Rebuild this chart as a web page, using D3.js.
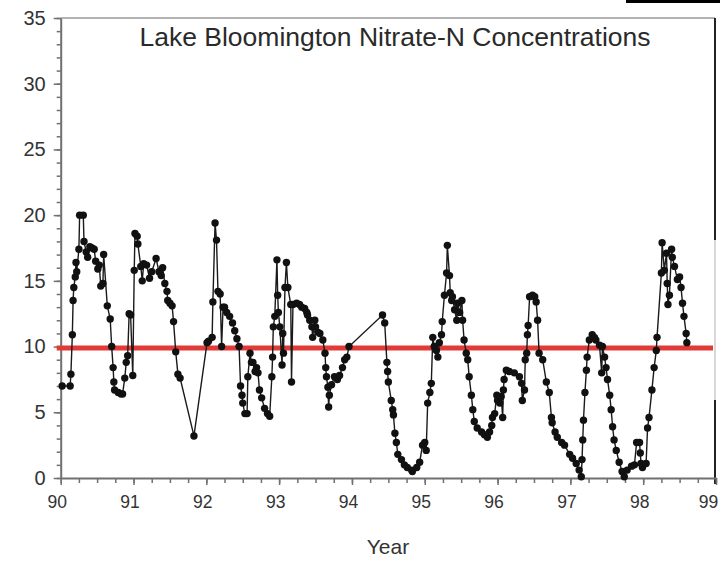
<!DOCTYPE html>
<html>
<head>
<meta charset="utf-8">
<script src="https://cdn.jsdelivr.net/npm/d3@7"></script>
<style>
    body { margin: 0; background: #fff; }
    svg { display: block; font-family: "Liberation Sans", Arial, sans-serif; }
</style>
</head>
<body>
<div id="chart"></div>
<script>
// sample dates (decimal year, 90 = 1990) and nitrate-N (mg/L)
const years = [
    90.02, 90.13, 90.14, 90.16, 90.17, 90.18, 90.20, 90.21, 90.22, 90.25,
    90.26, 90.31, 90.32, 90.35, 90.37, 90.40, 90.43, 90.46, 90.48, 90.51,
    90.53, 90.55, 90.58, 90.59, 90.64, 90.68, 90.70, 90.72, 90.73, 90.74,
    90.79, 90.83, 90.85, 90.88, 90.90, 90.92, 90.94, 90.96, 90.99, 91.01,
    91.02, 91.05, 91.06, 91.10, 91.12, 91.14, 91.18, 91.22, 91.25, 91.31,
    91.35, 91.38, 91.40, 91.43, 91.46, 91.47, 91.50, 91.53, 91.55, 91.58,
    91.61, 91.64, 91.83, 92.01, 92.03, 92.08, 92.09, 92.12, 92.14, 92.16,
    92.19, 92.21, 92.23, 92.25, 92.28, 92.32, 92.36, 92.39, 92.42, 92.45,
    92.47, 92.49, 92.50, 92.53, 92.56, 92.57, 92.60, 92.62, 92.64, 92.67,
    92.69, 92.71, 92.73, 92.76, 92.80, 92.84, 92.87, 92.90, 92.91, 92.92,
    92.94, 92.97, 92.98, 92.99, 93.01, 93.04, 93.05, 93.06, 93.08, 93.10,
    93.12, 93.16, 93.17, 93.19, 93.24, 93.28, 93.31, 93.35, 93.38, 93.39,
    93.42, 93.45, 93.46, 93.49, 93.50, 93.53, 93.56, 93.60, 93.63, 93.64,
    93.65, 93.67, 93.68, 93.69, 93.72, 93.76, 93.80, 93.83, 93.87, 93.90,
    93.93, 93.96, 94.42, 94.45, 94.48, 94.49, 94.50, 94.54, 94.56, 94.57,
    94.59, 94.61, 94.63, 94.68, 94.72, 94.76, 94.82, 94.83, 94.89, 94.93,
    94.97, 95.00, 95.02, 95.04, 95.07, 95.09, 95.11, 95.13, 95.16, 95.18,
    95.20, 95.23, 95.24, 95.27, 95.30, 95.31, 95.34, 95.35, 95.37, 95.38,
    95.41, 95.44, 95.45, 95.48, 95.51, 95.52, 95.54, 95.57, 95.59, 95.61,
    95.64, 95.66, 95.68, 95.72, 95.78, 95.82, 95.86, 95.89, 95.92, 95.93,
    95.96, 95.99, 96.00, 96.03, 96.05, 96.07, 96.08, 96.09, 96.12, 96.16,
    96.23, 96.30, 96.33, 96.34, 96.37, 96.38, 96.40, 96.41, 96.42, 96.44,
    96.48, 96.51, 96.53, 96.55, 96.57, 96.62, 96.67, 96.71, 96.74, 96.75,
    96.79, 96.82, 96.88, 96.92, 96.99, 97.03, 97.08, 97.12, 97.15, 97.16,
    97.17, 97.18, 97.20, 97.22, 97.23, 97.26, 97.30, 97.33, 97.35, 97.40,
    97.43, 97.44, 97.47, 97.49, 97.51, 97.54, 97.56, 97.58, 97.60, 97.63,
    97.67, 97.71, 97.74, 97.78, 97.84, 97.88, 97.91, 97.95, 97.96, 97.97,
    97.99, 98.04, 98.06, 98.08, 98.12, 98.15, 98.18, 98.19, 98.25, 98.26,
    98.29, 98.32, 98.33, 98.34, 98.36, 98.39, 98.40, 98.43, 98.47, 98.50,
    98.52, 98.54, 98.56, 98.59, 98.60
];
const nitrate = [
    7.0, 7.0, 7.9, 10.9, 13.5, 14.5, 15.3, 16.4, 15.7, 17.4,
    20.0, 20.0, 18.0, 17.2, 16.8, 17.6, 17.5, 17.4, 16.5, 15.9,
    16.2, 14.6, 14.8, 17.0, 13.1, 12.1, 10.0, 8.4, 7.3, 6.7,
    6.5, 6.4, 6.4, 7.6, 8.8, 9.3, 12.5, 12.4, 7.8, 15.8,
    18.6, 18.4, 17.8, 16.1, 15.0, 16.3, 16.2, 15.2, 15.7, 16.7,
    15.7, 15.4, 16.0, 14.8, 14.2, 13.5, 13.3, 13.1, 11.9, 9.6,
    7.9, 7.6, 3.2, 10.3, 10.4, 10.7, 13.4, 19.4, 18.1, 14.2,
    14.0, 10.0, 13.0, 13.0, 12.6, 12.3, 11.8, 11.2, 10.6, 10.0,
    7.0, 6.3, 5.7, 4.9, 4.9, 7.7, 9.5, 8.8, 8.8, 8.1,
    8.4, 8.0, 6.7, 6.1, 5.3, 4.9, 4.7, 7.7, 9.2, 11.5,
    12.3, 16.6, 13.9, 12.6, 11.5, 8.6, 11.0, 9.5, 14.5, 16.4,
    14.5, 13.2, 7.3, 13.2, 13.3, 13.2, 13.0, 12.9, 12.6, 12.4,
    12.0, 11.5, 10.7, 12.0, 11.5, 11.1, 11.0, 10.5, 9.5, 8.4,
    7.7, 6.9, 5.4, 6.3, 7.1, 7.7, 7.5, 7.8, 8.4, 9.0,
    9.2, 10.0, 12.4, 11.8, 8.8, 8.1, 7.3, 5.9, 5.2, 4.8,
    3.4, 2.7, 1.8, 1.4, 1.0, 0.8, 0.6, 0.5, 0.8, 1.2,
    2.5, 2.7, 2.1, 5.7, 6.5, 7.2, 10.7, 10.0, 9.7, 9.2,
    10.3, 10.9, 11.9, 13.9, 15.6, 17.7, 15.4, 14.1, 13.5, 13.8,
    12.8, 12.0, 13.3, 12.6, 13.5, 12.0, 10.5, 9.5, 9.0, 7.7,
    6.3, 5.2, 4.3, 3.8, 3.5, 3.3, 3.1, 3.5, 4.0, 4.6,
    4.9, 6.3, 5.9, 5.7, 6.2, 4.6, 6.7, 7.5, 8.2, 8.1,
    8.0, 7.7, 7.2, 5.9, 6.7, 9.0, 9.5, 10.9, 11.6, 13.8,
    13.9, 13.8, 13.4, 12.0, 9.5, 9.0, 7.3, 6.5, 4.6, 4.2,
    3.5, 3.1, 2.7, 2.5, 1.8, 1.5, 1.1, 0.6, 0.1, 1.4,
    2.9, 4.4, 6.5, 8.2, 9.2, 10.5, 10.9, 10.7, 10.5, 10.1,
    8.0, 10.0, 9.2, 8.4, 7.5, 6.3, 5.2, 3.9, 2.9, 2.1,
    1.2, 0.5, 0.1, 0.6, 0.9, 1.0, 2.7, 2.7, 1.9, 1.1,
    0.8, 1.1, 3.8, 4.6, 6.7, 8.4, 9.7, 10.7, 15.6, 17.9,
    15.8, 17.1, 14.8, 13.2, 13.9, 17.4, 16.8, 16.1, 15.1, 15.3,
    14.5, 13.3, 12.3, 11.0, 10.3
];
const yTicks = [0, 5, 10, 15, 20, 25, 30, 35];
const xTicks = [90, 91, 92, 93, 94, 95, 96, 97, 98, 99];
const standard = 9.9; // drinking-water limit line as drawn
const title = "Lake Bloomington Nitrate-N Concentrations";
const xTitle = "Year";

const width = 720;
const height = 561;
const pl = 60.7;
const pr = 716;
const pt = 18;
const pb = 478;

const data = years.map((d, i) => ({year: d, value: nitrate[i]}));

const x = d3.scaleLinear().domain([90, 99]).range([pl, pr]);
const y = d3.scaleLinear().domain([0, 35]).range([pb, pt]);

const svg = d3.select("#chart").append("svg")
    .attr("width", width)
    .attr("height", height);

// frame: grey top edge, dark right edge (patchy, like the scan)
svg.append("line")
    .attr("x1", pl).attr("x2", pr - 1)
    .attr("y1", pt).attr("y2", pt)
    .attr("stroke", "#9a9a9a").attr("stroke-width", 1.5);
svg.append("line")
    .attr("x1", pr - 1).attr("x2", pr - 1)
    .attr("y1", pt).attr("y2", 240)
    .attr("stroke", "#222").attr("stroke-width", 2);
svg.append("line")
    .attr("x1", pr - 1).attr("x2", pr - 1)
    .attr("y1", 240).attr("y2", 400)
    .attr("stroke", "#ccc").attr("stroke-width", 1.5);
svg.append("line")
    .attr("x1", pr - 1).attr("x2", pr - 1)
    .attr("y1", 400).attr("y2", pb + 6)
    .attr("stroke", "#222").attr("stroke-width", 2);
svg.append("rect")
    .attr("x", 626).attr("y", 0)
    .attr("width", 94).attr("height", 3)
    .attr("fill", "#000");

// y axis, minor ticks every 1
svg.append("g")
    .attr("transform", `translate(${pl},0)`)
    .call(d3.axisLeft(y).tickValues(d3.range(0, 36, 1)).tickSize(4).tickFormat(""))
    .call(g => g.select(".domain").remove());
svg.append("g")
    .attr("class", "yAxis")
    .attr("transform", `translate(${pl},0)`)
    .call(d3.axisLeft(y).tickValues(yTicks).tickSize(7).tickSizeOuter(0).tickPadding(8));

// x axis, minor ticks every quarter year
svg.append("g")
    .attr("transform", `translate(0,${pb})`)
    .call(d3.axisBottom(x).tickValues(d3.range(90, 99.01, 0.25)).tickSize(5).tickFormat(""))
    .call(g => g.select(".domain").remove());
svg.append("g")
    .attr("class", "xAxis")
    .attr("transform", `translate(0,${pb})`)
    .call(d3.axisBottom(x).tickValues(xTicks).tickSize(7).tickSizeOuter(0).tickPadding(11));

svg.selectAll(".domain, .tick line")
    .attr("stroke", "#707070")
    .attr("stroke-width", 1.5);
svg.selectAll(".yAxis .domain, .xAxis .domain").attr("stroke-width", 2);

svg.selectAll(".yAxis text")
    .attr("fill", "#333")
    .style("font-size", "20px");
// last label sits at the window edge; nudge it in so it stays whole
svg.selectAll(".xAxis text")
    .attr("fill", "#333")
    .attr("dx", d => d === 99 ? -8 : -4)
    .style("font-size", "17.5px");

// red 10 mg/L line
svg.append("line")
    .attr("x1", pl - 4).attr("x2", pr - 3)
    .attr("y1", y(standard)).attr("y2", y(standard))
    .attr("stroke", "#e23a36")
    .attr("stroke-width", 5);

// series
svg.append("path")
    .datum(data)
    .attr("fill", "none")
    .attr("stroke", "#1a1a1a")
    .attr("stroke-width", 1.4)
    .attr("d", d3.line().x(d => x(d.year)).y(d => y(d.value)));

svg.append("g")
    .selectAll("circle")
    .data(data)
    .join("circle")
    .attr("cx", d => x(d.year))
    .attr("cy", d => y(d.value))
    .attr("r", 3.7)
    .attr("fill", "#111");

svg.append("text")
    .text(title)
    .attr("x", 395)
    .attr("y", 46)
    .attr("text-anchor", "middle")
    .attr("fill", "#2a2a2a")
    .style("font-size", "26.5px");

svg.append("text")
    .text(xTitle)
    .attr("x", 388)
    .attr("y", 554)
    .attr("text-anchor", "middle")
    .attr("fill", "#333")
    .style("font-size", "21px");
</script>
</body>
</html>
